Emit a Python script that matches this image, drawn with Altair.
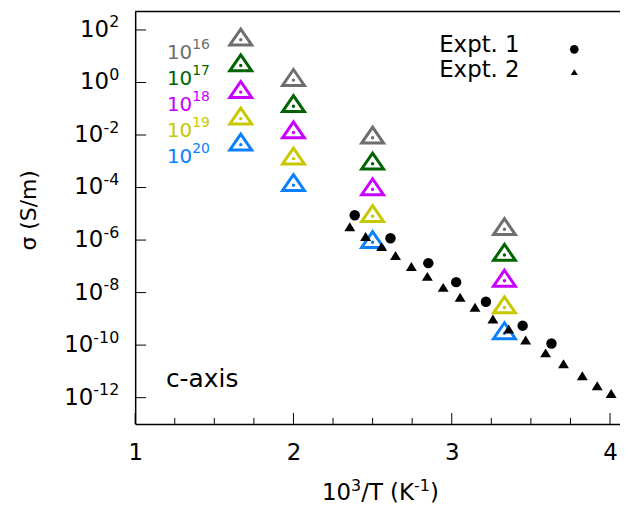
import altair as alt
import pandas as pd

FONT = "DejaVu Sans"

# ---- data ----
model_x = [1.667, 2.0, 2.5, 3.333]          # 10^3/T for 600, 500, 400, 300 K
doping_exp = ["16", "17", "18", "19", "20"]
doping_colors = ["#6e6e6e", "#006400", "#c800ff", "#c8c800", "#0a80ff"]
sigma_1e16 = [42.7, 1.23, 7.85e-3, 2.57e-6]
sigma_1e17 = [4.42, 0.124, 8.1e-4, 2.7e-7]
sigma_1e18 = [0.43, 1.24e-2, 8.5e-5, 2.8e-8]
sigma_1e19 = [4.2e-2, 1.26e-3, 8.1e-6, 2.7e-9]
sigma_1e20 = [4.3e-3, 1.23e-4, 8.3e-7, 2.8e-10]

expt1_x = [2.387, 2.613, 2.852, 3.028, 3.216, 3.448, 3.630]
expt1_sigma = [8.79e-6, 1.17e-6, 1.32e-7, 2.5e-8, 4.5e-9, 5.5e-10, 1.15e-10]

expt2_x = [2.356, 2.456, 2.557, 2.645, 2.745, 2.846, 2.946, 3.053, 3.147,
           3.260, 3.360, 3.467, 3.593, 3.706, 3.825, 3.919, 4.007]
expt2_sigma = [2.83e-6, 1.19e-6, 4.95e-7, 2.26e-7, 8.7e-8, 3.63e-8, 1.39e-8,
               5.83e-9, 2.44e-9, 8.6e-10, 3.59e-10, 1.38e-10, 4.44e-11,
               1.70e-11, 6.0e-12, 2.5e-12, 1.26e-12]

x_major = [1, 2, 3, 4]
x_minor = [1.25, 1.5, 1.75, 2.25, 2.5, 2.75, 3.25, 3.5, 3.75]
y_tick_exps = [2, 0, -2, -4, -6, -8, -10, -12]

# ---- tables ----
series = [sigma_1e16, sigma_1e17, sigma_1e18, sigma_1e19, sigma_1e20]
model_rows = []
for i, (e, s) in enumerate(zip(doping_exp, series)):
    for x, v in zip(model_x, s):
        model_rows.append({"x": x, "sigma": v, "dop": e, "order": i})
model_df = pd.DataFrame(model_rows)
expt1_df = pd.DataFrame({"x": expt1_x, "sigma": expt1_sigma})
expt2_df = pd.DataFrame({"x": expt2_x, "sigma": expt2_sigma})
ytick_df = pd.DataFrame({"v": [10.0 ** e for e in y_tick_exps],
                         "lab": [str(e) for e in y_tick_exps]})
xmaj_df = pd.DataFrame({"v": x_major})
xmin_df = pd.DataFrame({"v": x_minor})
dop_df = pd.DataFrame({"lab": doping_exp, "idx": list(range(len(doping_exp)))})
one = pd.DataFrame({"a": [0]})

W, H = 488, 415
xs = alt.Scale(domain=[1, 4.063], nice=False, zero=False)
ys = alt.Scale(type="log", domain=[1e-13, 500], nice=False)
cs = alt.Scale(domain=doping_exp, range=doping_colors)

X_AX = alt.Axis(values=x_major, format="d", ticks=False, tickSize=0,
                grid=False, domainColor="black", domainWidth=1.5,
                labelFont=FONT, labelFontSize=23, labelColor="black",
                labelBaseline="alphabetic", labelPadding=36,
                labelFlush=False, title=None)
Y_AX = alt.Axis(labels=False, ticks=False, tickSize=0, grid=False,
                domainColor="black", domainWidth=1.5, title=None)


def X(field):
    return alt.X(field, scale=xs, axis=X_AX, title=None)


def Y(field):
    return alt.Y(field, scale=ys, axis=Y_AX, title=None)


TRI_OPEN = "M0,-0.97L1,0.485L-1,0.485Z"
TRI_FILL = "M0,-1.09L1,0.545L-1,0.545Z"

model_tri = alt.Chart(model_df).mark_point(
    shape=TRI_OPEN, filled=False, strokeWidth=3, size=484, opacity=1
).encode(x=X("x:Q"), y=Y("sigma:Q"),
         color=alt.Color("dop:N", scale=cs, legend=None))
model_dot = alt.Chart(model_df).mark_circle(size=12, opacity=1).encode(
    x=X("x:Q"), y=Y("sigma:Q"),
    color=alt.Color("dop:N", scale=cs, legend=None))
expt1 = alt.Chart(expt1_df).mark_circle(size=110, color="black", opacity=1).encode(
    x=X("x:Q"), y=Y("sigma:Q"))
expt2 = alt.Chart(expt2_df).mark_point(
    shape=TRI_FILL, filled=True, size=121, color="black", opacity=1
).encode(x=X("x:Q"), y=Y("sigma:Q"))

# inward ticks
xmaj_ticks = alt.Chart(xmaj_df).mark_rule(color="black", strokeWidth=1).encode(
    x=X("v:Q"), y=alt.value(H), y2=alt.value(H - 11))
xmin_ticks = alt.Chart(xmin_df).mark_rule(color="black", strokeWidth=1).encode(
    x=X("v:Q"), y=alt.value(H), y2=alt.value(H - 6))
y_ticks = alt.Chart(ytick_df).mark_rule(color="black", strokeWidth=1).encode(
    y=Y("v:Q"), x=alt.value(0), x2=alt.value(11))
top_border = alt.Chart(one).mark_rule(color="black", strokeWidth=1.5).encode(
    y=alt.value(0), x=alt.value(0), x2=alt.value(W))

# y tick labels: "10" + superscript exponent
ylab_exp = alt.Chart(ytick_df).mark_text(
    font=FONT, fontSize=16, align="right", baseline="alphabetic", dy=-2.5, color="black"
).encode(y=Y("v:Q"), x=alt.value(-16), text="lab:N")
ylab_base = alt.Chart(ytick_df).transform_calculate(
    bx="-16 - (length(datum.lab) * 10.18 - (indexof(datum.lab, '-') == 0 ? 4.4 : 0))"
).mark_text(
    font=FONT, fontSize=23, align="right", baseline="alphabetic", dy=7, color="black"
).encode(y=Y("v:Q"), x=alt.X("bx:Q", scale=None), text=alt.value("10"))

# doping labels
dop_base = alt.Chart(dop_df).transform_calculate(
    yy="48 + datum.idx * 26"
).mark_text(font=FONT, fontSize=20, align="left", baseline="alphabetic").encode(
    x=alt.value(32), y=alt.Y("yy:Q", scale=None), text=alt.value("10"),
    color=alt.Color("lab:N", scale=cs, legend=None))
dop_exp = alt.Chart(dop_df).transform_calculate(
    yy="38 + datum.idx * 26"
).mark_text(font=FONT, fontSize=14, align="left", baseline="alphabetic").encode(
    x=alt.value(57.4), y=alt.Y("yy:Q", scale=None), text="lab:N",
    color=alt.Color("lab:N", scale=cs, legend=None))

# legend
leg1_t = alt.Chart(one).mark_text(font=FONT, fontSize=23, align="left",
                                  baseline="alphabetic", color="black").encode(
    x=alt.value(306), y=alt.value(41), text=alt.value("Expt. 1"))
leg2_t = alt.Chart(one).mark_text(font=FONT, fontSize=23, align="left",
                                  baseline="alphabetic", color="black").encode(
    x=alt.value(306), y=alt.value(66), text=alt.value("Expt. 2"))
leg1_s = alt.Chart(one).mark_circle(size=75, color="black", opacity=1).encode(
    x=alt.value(442), y=alt.value(38))
leg2_s = alt.Chart(one).mark_point(shape=TRI_FILL, filled=True, size=50,
                                   color="black", opacity=1).encode(
    x=alt.value(442), y=alt.value(62))

caxis = alt.Chart(one).mark_text(font=FONT, fontSize=25, align="left",
                                 baseline="alphabetic", color="black").encode(
    x=alt.value(31), y=alt.value(378), text=alt.value("c-axis"))

ytitle = alt.Chart(one).mark_text(font=FONT, fontSize=22, align="center",
                                  baseline="middle", angle=270, color="black").encode(
    x=alt.value(-107), y=alt.value(200), text=alt.value("σ (S/m)"))


def piece(txt, x, y, size):
    return alt.Chart(one).mark_text(font=FONT, fontSize=size, align="left",
                                    baseline="alphabetic", color="black").encode(
        x=alt.value(x), y=alt.value(y), text=alt.value(txt))


xt = [piece("10", 188, 492, 23), piece("3", 217.3, 483, 16),
      piece("/T (K", 227.5, 492, 23), piece("-1", 280.7, 483, 16),
      piece(")", 296.7, 492, 23)]

chart = alt.layer(
    model_tri, model_dot, expt1, expt2,
    xmaj_ticks, xmin_ticks, y_ticks, top_border,
    ylab_base, ylab_exp, dop_base, dop_exp,
    leg1_t, leg2_t, leg1_s, leg2_s, caxis, ytitle, *xt
).resolve_scale(color="shared").properties(
    width=W, height=H,
    autosize=alt.AutoSizeParams(type="none"),
    padding={"left": 128, "top": 2, "right": 0, "bottom": 80},
).configure_view(stroke=None)

chart.save("out.html", embed_options={"renderer": "svg", "actions": False})
